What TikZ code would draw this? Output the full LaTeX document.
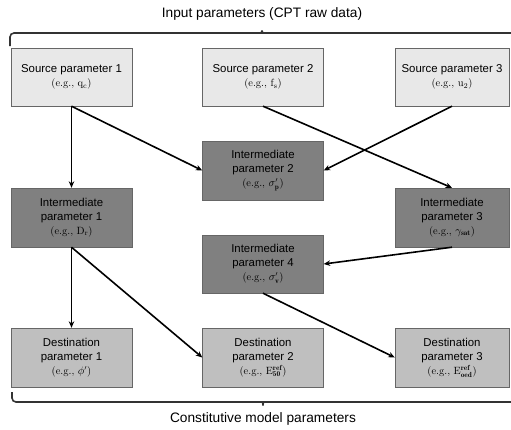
\documentclass[tikz,border=0pt]{standalone}
\usepackage{fontspec}
\setsansfont{Liberation Sans}
\usepackage{tikz}
\usetikzlibrary{arrows.meta}

\tikzset{
  pbox/.style={draw=black!60, minimum width=121pt, minimum height=58pt, inner sep=0pt,
    align=center, font=\sffamily\fontsize{11.4}{14}\selectfont},
  srcbox/.style={pbox, fill=black!9},
  midbox/.style={pbox, fill=black!50},
  dstbox/.style={pbox, fill=black!25},
  link/.style={-{Stealth[length=6.5pt,width=5.5pt]}, line width=1.6pt},
  brace/.style={line width=1.6pt, draw=black!80, rounded corners=4pt},
  bracetext/.style={font=\sffamily\fontsize{13.7}{16}\selectfont}
}
\newcommand{\eg}[1]{{\rmfamily\fontsize{10.5}{13}\selectfont (e.g., $#1$)}}

\begin{document}
\begin{tikzpicture}[x=1pt, y=-1pt]
  \useasboundingbox (0,0) rectangle (511,429);
  \node[bracetext] (intext) at (262,14) {Input parameters (CPT raw data)};
  \draw[brace] (10,46) -- (10,33) -- (258,33)
    .. controls (261,33) and (262,31) .. (262,28)
    .. controls (262,31) and (263,33) .. (266,33) -- (525,33);

  \node[srcbox] (src1) at (71.5,77) {Source parameter 1\\\eg{\mathrm{q_c}}};
  \node[srcbox] (src2) at (263,77) {Source parameter 2\\\eg{\mathrm{f_s}}};
  \node[srcbox, minimum width=114pt] (src3) at (452,77) {Source parameter 3\\\eg{\mathrm{u_2}}};

  \node[midbox, minimum height=59pt] (mid2) at (263,170.5) {Intermediate\\parameter 2\\\eg{\sigma'_\mathbf{p}}};
  \node[midbox, minimum height=59pt] (mid1) at (71.5,217.5) {Intermediate\\parameter 1\\\eg{\mathrm{D_r}}};
  \node[midbox, minimum height=59pt, minimum width=114pt] (mid3) at (452,217.5) {Intermediate\\parameter 3\\\eg{\gamma_\mathbf{sat}}};
  \node[midbox] (mid4) at (263,264) {Intermediate\\parameter 4\\\eg{\sigma'_\mathbf{v}}};

  \node[dstbox, minimum height=59pt] (dst1) at (71.5,357.5) {Destination\\parameter 1\\\eg{\phi'}};
  \node[dstbox, minimum height=59pt] (dst2) at (263,357.5) {Destination\\parameter 2\\\eg{\mathrm{E}^\mathbf{ref}_\mathbf{50}}};
  \node[dstbox, minimum height=59pt, minimum width=114pt] (dst3) at (452,357.5) {Destination\\parameter 3\\\eg{\mathrm{E}^\mathbf{ref}_\mathbf{oed}}};

  \draw[link] (src1.south) -- (mid1.north);
  \draw[link] (src1.south) -- (mid2.west);
  \draw[link] (src2.south) -- (mid3.north);
  \draw[link] (src3.south) -- (mid2.east);
  \draw[link] (mid3.south) -- (mid4.east);
  \draw[link] (mid1.south) -- (dst1.north);
  \draw[link] (mid1.south) -- (dst2.west);
  \draw[link] (mid4.south) -- (dst3.west);

  \draw[brace] (12,392) -- (12,402) -- (259,402)
    .. controls (262,402) and (263,404) .. (263,408)
    .. controls (263,404) and (264,402) .. (267,402) -- (525,402);
  \node[bracetext] (outtext) at (263,419) {Constitutive model parameters};
\end{tikzpicture}
\end{document}
